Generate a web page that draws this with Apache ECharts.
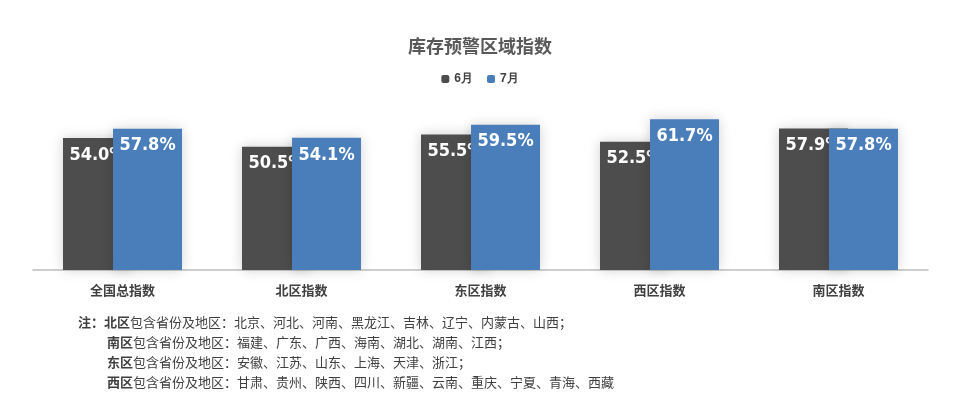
<!DOCTYPE html><html><head><meta charset="utf-8"><script src="https://cdn.jsdelivr.net/npm/echarts@6/dist/echarts.min.js"></script></head><body style="margin:0"><div id="c" style="width:960px;height:401px"></div><script>
const categories=['全国总指数','北区指数','东区指数','西区指数','南区指数'];
const june=[54.0,50.5,55.5,52.5,57.9];
const july=[57.8,54.1,59.5,61.7,57.8];
const notes=[['北区','北京、河北、河南、黑龙江、吉林、辽宁、内蒙古、山西；'],['南区','福建、广东、广西、海南、湖北、湖南、江西；'],['东区','安徽、江苏、山东、上海、天津、浙江；'],['西区','甘肃、贵州、陕西、四川、新疆、云南、重庆、宁夏、青海、西藏']];
const ch=echarts.init(document.getElementById('c'));
const lab={show:true,position:'insideTop',distance:8,color:'#fff',fontFamily:'"Liberation Sans Narrow","DejaVu Sans Condensed",sans-serif',fontWeight:'bold',fontSize:18,formatter:p=>p.value.toFixed(1)+'%'};
const g=notes.map((n,i)=>({type:'text',left:i===0?78:107,top:316+i*20,style:{text:(i===0?'{b|注：}':'')+'{b|'+n[0]+'}包含省份及地区：'+n[1],fill:'#404040',font:'13px "Noto Sans CJK SC"',rich:{b:{fontWeight:'bold',fontSize:13,fill:'#404040',fontFamily:'Noto Sans CJK SC'}}}}));
ch.setOption({animation:false,
title:{text:'库存预警区域指数',left:'center',top:32,textStyle:{fontSize:18,fontWeight:'bold',color:'#595959',fontFamily:'Noto Sans CJK SC'}},
legend:{top:68,left:'center',itemWidth:8,itemHeight:8,itemGap:14,textStyle:{fontSize:12,fontWeight:'bold',color:'#404040'},data:['6月','7月']},
grid:{left:33,right:32,top:99,bottom:131},
xAxis:{type:'category',data:categories,axisLine:{lineStyle:{color:'#bfbfbf',width:1.5}},axisTick:{length:5,lineStyle:{color:'#bfbfbf'}},axisLabel:{fontSize:13,fontWeight:'bold',color:'#404040',margin:14,fontFamily:'Noto Sans CJK SC'}},
yAxis:{type:'value',min:0,max:70,show:false,splitLine:{show:false}},
series:[{name:'6月',type:'bar',data:june,barWidth:69,barGap:'-27.5%',itemStyle:{color:'#4d4d4d',shadowBlur:12,shadowColor:'rgba(0,0,0,0.18)'},label:lab,z:2},
{name:'7月',type:'bar',data:july,barWidth:69,itemStyle:{color:'#4a7ebb',shadowBlur:12,shadowColor:'rgba(0,0,0,0.18)'},label:lab,z:3}],
graphic:g});
</script></body></html>
